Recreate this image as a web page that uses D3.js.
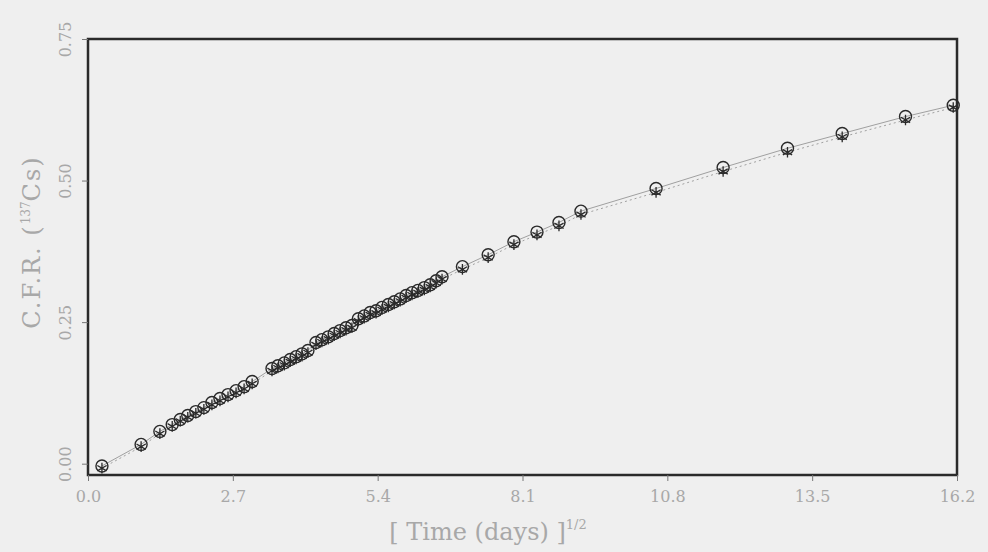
<!DOCTYPE html>
<html>
<head>
<meta charset="utf-8">
<script src="https://cdn.jsdelivr.net/npm/d3@7"></script>
<style>
  body { margin: 0; background: #efefef; }
  svg { display: block; }
</style>
</head>
<body>
<script>
//data
var sqrtDays = [0.26, 0.99, 1.34, 1.57, 1.72, 1.86, 2.01, 2.16, 2.31, 2.46, 2.61, 2.76, 2.91, 3.06,
                3.43, 3.54, 3.66, 3.77, 3.88, 3.99, 4.10,
                4.25, 4.36, 4.48, 4.59, 4.70, 4.81, 4.92,
                5.04, 5.15, 5.26, 5.37, 5.48, 5.60,
                5.71, 5.82, 5.93, 6.04, 6.15, 6.27, 6.38, 6.49, 6.60,
                6.98, 7.46, 7.94, 8.37, 8.78, 9.19,
                10.59, 11.84, 13.04, 14.06, 15.24, 16.13];
var cfrCircle = [-0.004, 0.034, 0.057, 0.069, 0.078, 0.085, 0.092, 0.099, 0.108, 0.115, 0.122, 0.129, 0.136, 0.145,
                 0.168, 0.173, 0.178, 0.184, 0.189, 0.194, 0.200,
                 0.214, 0.219, 0.224, 0.230, 0.235, 0.240, 0.244,
                 0.256, 0.261, 0.267, 0.270, 0.276, 0.281,
                 0.286, 0.291, 0.297, 0.302, 0.306, 0.311, 0.316, 0.323, 0.330,
                 0.348, 0.369, 0.392, 0.409, 0.426, 0.446,
                 0.486, 0.523, 0.557, 0.583, 0.613, 0.633];
var cfrStar = [-0.008, 0.030, 0.053, 0.066, 0.075, 0.082, 0.089, 0.096, 0.104, 0.111, 0.118, 0.125, 0.132, 0.141,
               0.164, 0.169, 0.174, 0.180, 0.185, 0.190, 0.196,
               0.210, 0.215, 0.220, 0.226, 0.231, 0.236, 0.240,
               0.252, 0.257, 0.263, 0.266, 0.272, 0.277,
               0.282, 0.287, 0.293, 0.298, 0.302, 0.307, 0.312, 0.319, 0.326,
               0.343, 0.364, 0.387, 0.404, 0.420, 0.440,
               0.479, 0.516, 0.550, 0.577, 0.607, 0.629];
var xTicks = [0.0, 2.7, 5.4, 8.1, 10.8, 13.5, 16.2];
var yTicks = [0.00, 0.25, 0.50, 0.75];

var width = 988, height = 552;
var margin = {left: 88, right: 31, top: 39, bottom: 77};
var ink = "#2a2a2a", textGray = "#a8a8a8";
var font = "'DejaVu Serif', 'Liberation Serif', serif";

var svg = d3.select("body").append("svg")
    .attr("width", width)
    .attr("height", height);

svg.append("rect").attr("width", width).attr("height", height).attr("fill", "#efefef");

var x = d3.scaleLinear().domain([0, 16.2]).range([margin.left, width - margin.right]);
var y = d3.scaleLinear().domain([-0.02, 0.75]).range([height - margin.bottom, margin.top]);

var points = sqrtDays.map(function(d, i) {
    return {x: d, a: cfrCircle[i], b: cfrStar[i]};
});

//lines: solid through circles, dotted through stars
var lineA = d3.line().x(function(d) { return x(d.x); }).y(function(d) { return y(d.a); });
var lineB = d3.line().x(function(d) { return x(d.x); }).y(function(d) { return y(d.b); });

svg.append("path").datum(points)
    .attr("d", lineA)
    .attr("fill", "none")
    .attr("stroke", "#a0a0a0")
    .attr("stroke-width", 1);

svg.append("path").datum(points)
    .attr("d", lineB)
    .attr("fill", "none")
    .attr("stroke", "#a0a0a0")
    .attr("stroke-width", 1)
    .attr("stroke-dasharray", "2,3");

//markers
svg.append("g").selectAll("circle")
    .data(points)
    .enter().append("circle")
    .attr("cx", function(d) { return x(d.x); })
    .attr("cy", function(d) { return y(d.a); })
    .attr("r", 6)
    .attr("fill", "none")
    .attr("stroke", ink)
    .attr("stroke-width", 1.4);

var star = d3.symbol().type(d3.symbolAsterisk).size(80);
svg.append("g").selectAll("path")
    .data(points)
    .enter().append("path")
    .attr("d", star)
    .attr("transform", function(d) { return "translate(" + x(d.x) + "," + y(d.b) + ")"; })
    .attr("fill", "none")
    .attr("stroke", ink)
    .attr("stroke-width", 1.3);

//frame
svg.append("rect")
    .attr("x", x.range()[0])
    .attr("y", y.range()[1])
    .attr("width", x.range()[1] - x.range()[0])
    .attr("height", y.range()[0] - y.range()[1])
    .attr("fill", "none")
    .attr("stroke", ink)
    .attr("stroke-width", 2.5);

//axes
var xAxis = svg.append("g")
    .attr("transform", "translate(0," + y.range()[0] + ")")
    .call(d3.axisBottom(x).tickValues(xTicks).tickFormat(d3.format(".1f")).tickSize(6).tickPadding(10));

var yAxis = svg.append("g")
    .attr("transform", "translate(" + x.range()[0] + ",0)")
    .call(d3.axisLeft(y).tickValues(yTicks).tickFormat(d3.format(".2f")).tickSize(6).tickPadding(0));

[xAxis, yAxis].forEach(function(g) {
    g.select(".domain").remove();
    g.selectAll(".tick line").attr("stroke", "#777").attr("stroke-width", 1);
    g.selectAll("text")
        .attr("fill", textGray)
        .style("font-family", font)
        .style("font-size", "16px");
});

yAxis.selectAll("text")
    .attr("x", null)
    .attr("dy", null)
    .attr("text-anchor", "middle")
    .attr("transform", "translate(-17,0) rotate(-90)");

//axis titles
var xTitle = svg.append("text")
    .attr("x", 488)
    .attr("y", 540)
    .attr("text-anchor", "middle")
    .attr("fill", textGray)
    .style("font-family", font)
    .style("font-size", "24px");
xTitle.append("tspan").text("[  Time  (days)  ]");
xTitle.append("tspan").attr("dy", -11).style("font-size", "13px").text("1/2");

var yTitle = svg.append("text")
    .attr("transform", "translate(40,242) rotate(-90)")
    .attr("text-anchor", "middle")
    .attr("fill", textGray)
    .style("font-family", font)
    .style("font-size", "24px")
    .style("letter-spacing", "2px");
yTitle.append("tspan").text("C.F.R.  (");
yTitle.append("tspan").attr("dy", -10).style("font-size", "12px").style("letter-spacing", "0px").text("137");
yTitle.append("tspan").attr("dy", 10).text("Cs)");
</script>
</body>
</html>
